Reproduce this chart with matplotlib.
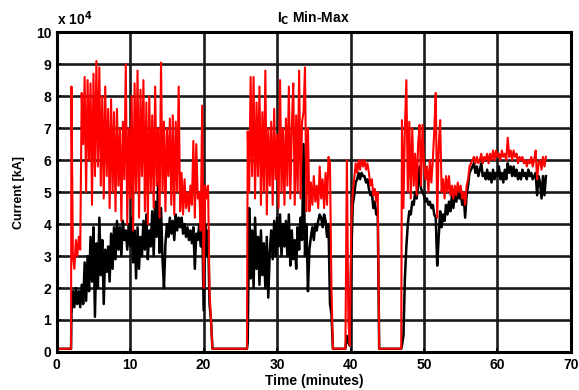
import numpy as np
import matplotlib
matplotlib.use("Agg")
import matplotlib.pyplot as plt

plt.rcParams["font.family"] = ["Liberation Sans", "DejaVu Sans"]
plt.rcParams["font.weight"] = "bold"

# current in units of 1e4 kA, sampled every 0.2 min inside each run
BASE = 0.1
gaps = [(0.0, 1.95), (21.3, 25.9), (37.7, 39.3), (44.0, 46.9)]

seg1_t = (2.0, 21.2)
seg1_max = [8.3, 3.0, 2.6, 3.5, 3.0, 3.6, 3.2, 8.1, 6.5, 8.6,
            5.0, 8.5, 6.0, 8.4, 4.6, 8.7, 5.5, 9.1, 5.8, 8.9,
            5.2, 8.0, 4.8, 8.3, 5.5, 7.6, 4.5, 7.9, 5.0, 7.5,
            4.4, 7.6, 5.2, 7.0, 4.1, 7.2, 5.4, 9.0, 4.0, 7.0,
            4.8, 8.0, 3.8, 8.4, 5.0, 8.8, 4.2, 8.2, 5.5, 8.5,
            4.4, 7.8, 4.0, 8.0, 5.0, 7.4, 4.5, 8.3, 5.2, 7.0,
            4.2, 9.05, 5.0, 7.2, 4.4, 7.0, 5.5, 7.3, 4.6, 7.4,
            4.3, 7.2, 5.0, 8.3, 4.4, 5.6, 4.3, 5.4, 4.5, 5.0,
            4.4, 5.2, 4.6, 6.6, 4.2, 6.5, 4.8, 5.0, 3.8, 7.7,
            2.0, 5.2, 4.8, 5.2, 1.9, 1.0, 0.1]
seg1_min = [1.2, 1.9, 1.4, 2.0, 1.5, 1.9, 1.4, 2.1, 1.5, 2.8,
            1.6, 3.0, 1.9, 3.6, 2.2, 3.9, 1.1, 3.4, 2.0, 4.2,
            2.4, 3.5, 1.5, 3.2, 2.5, 3.3, 2.2, 3.7, 2.6, 3.9,
            2.9, 4.1, 3.2, 3.9, 3.0, 4.1, 3.5, 3.8, 3.2, 4.0,
            3.3, 4.2, 2.8, 3.8, 2.3, 3.9, 2.6, 3.6, 3.0, 4.1,
            3.2, 4.3, 2.9, 3.8, 3.3, 4.4, 3.0, 4.7, 3.6, 5.3,
            3.1, 4.5, 2.9, 2.0, 3.4, 4.0, 3.6, 4.2, 3.7, 4.1,
            3.5, 4.3, 3.8, 4.2, 3.9, 4.2, 3.7, 4.0, 3.6, 3.9,
            3.5, 3.8, 3.4, 3.9, 2.6, 3.7, 3.5, 4.0, 3.3, 4.2,
            1.3, 4.0, 3.0, 3.8, 1.5, 1.0, 0.1]

seg2_t = (26.0, 37.6)
seg2_max = [6.9, 5.0, 8.6, 5.5, 8.6, 4.8, 7.8, 5.5, 8.3, 4.6,
            7.5, 5.0, 8.8, 4.3, 7.0, 5.2, 7.2, 4.6, 7.6, 5.4,
            6.8, 4.5, 8.5, 5.0, 7.0, 4.6, 7.3, 5.2, 8.3, 4.8,
            7.0, 8.4, 4.6, 7.4, 5.0, 8.8, 4.8, 7.2, 7.5, 8.9,
            4.4, 7.0, 4.4, 5.3, 4.6, 5.5, 4.7, 5.2, 4.5, 5.8,
            4.8, 5.4, 4.5, 5.6, 4.6, 6.1, 5.9, 2.0, 0.1]
seg2_min = [0.3, 4.5, 2.3, 3.8, 2.0, 4.2, 2.6, 3.6, 2.1, 3.8,
            2.4, 3.4, 2.0, 3.6, 1.7, 3.1, 3.8, 2.9, 4.1, 3.0,
            4.2, 3.3, 4.3, 3.0, 4.0, 3.3, 4.1, 3.0, 4.3, 2.7,
            3.8, 2.9, 3.5, 2.6, 3.9, 3.2, 4.2, 3.5, 6.5, 3.0,
            4.0, 1.9, 3.2, 3.6, 3.9, 3.5, 4.0, 3.8, 4.1, 4.3,
            4.2, 3.9, 4.3, 4.1, 3.6, 4.0, 1.5, 1.2, 0.1]

seg3_t = (39.5, 43.9)
seg3_max = [6.0, 1.0, 0.2, 4.0, 5.0, 5.4, 5.9, 5.6, 6.0, 5.7,
            6.0, 5.8, 6.0, 5.7, 5.9, 5.6, 5.2, 5.4, 4.9, 5.1,
            4.7, 5.0, 0.1]
seg3_min = [0.5, 0.3, 0.2, 3.0, 4.6, 4.9, 5.3, 5.4, 5.6, 5.4,
            5.6, 5.5, 5.5, 5.3, 5.4, 5.1, 4.9, 5.0, 4.5, 4.7,
            4.3, 4.4, 0.1]

seg4_t = (47.0, 56.4)
seg4_max = [7.25, 4.5, 7.0, 8.5, 5.0, 7.2, 4.8, 7.0, 5.2, 6.2,
            4.9, 6.5, 7.1, 5.2, 7.1, 5.9, 5.4, 5.8, 5.0, 6.0,
            5.3, 6.0, 6.9, 8.1, 4.2, 6.4, 7.25, 5.0, 5.4, 4.8,
            5.5, 5.0, 5.5, 4.9, 5.2, 4.8, 5.2, 4.9, 5.3, 5.0,
            5.2, 4.8, 5.0, 4.6, 5.2, 5.4, 5.8, 5.9]
seg4_min = [0.2, 0.5, 2.3, 3.3, 4.0, 4.4, 4.3, 4.7, 4.6, 5.0,
            4.8, 5.2, 5.8, 5.1, 5.0, 4.9, 4.7, 4.8, 4.6, 4.7,
            4.5, 4.6, 4.3, 4.2, 2.7, 3.6, 4.4, 3.9, 4.3, 4.1,
            4.6, 4.3, 4.7, 4.4, 4.9, 4.5, 5.0, 4.7, 5.0, 4.8,
            5.0, 4.6, 4.9, 4.2, 4.9, 5.2, 5.6, 5.7]

seg5_t = (56.6, 66.6)
seg5_max = [6.0, 6.1, 5.9, 6.1, 5.9, 6.0, 6.2, 5.9, 6.1, 6.0,
            6.2, 5.9, 6.2, 6.0, 6.3, 6.0, 6.3, 6.1, 6.2, 6.0,
            6.3, 6.1, 6.2, 6.0, 6.7, 6.1, 6.3, 6.0, 6.3, 6.1,
            6.2, 5.9, 6.1, 6.0, 6.1, 5.9, 6.0, 5.8, 6.0, 5.9,
            6.1, 5.8, 6.0, 6.3, 5.4, 5.9, 6.0, 5.7, 6.1, 5.8,
            6.1]
seg5_min = [5.8, 5.9, 5.6, 5.8, 5.5, 5.7, 5.9, 5.5, 5.6, 5.4,
            5.7, 5.4, 5.6, 5.3, 5.7, 5.4, 5.6, 5.5, 5.8, 5.4,
            5.6, 5.3, 5.7, 5.4, 5.9, 5.6, 5.8, 5.5, 5.8, 5.5,
            5.7, 5.4, 5.6, 5.4, 5.7, 5.5, 5.6, 5.4, 5.7, 5.5,
            5.6, 5.4, 5.5, 5.6, 4.9, 5.5, 5.3, 4.8, 5.5, 4.9,
            5.5]

runs = [(seg1_t, seg1_max, seg1_min), (seg2_t, seg2_max, seg2_min),
        (seg3_t, seg3_max, seg3_min), (seg4_t, seg4_max, seg4_min),
        (seg5_t, seg5_max, seg5_min)]


def build(which):
    t, y = [], []
    pieces = []
    for g in gaps:
        pieces.append((g[0], list(g), [BASE, BASE]))
    for (t0, t1), vmax, vmin in runs:
        vals = vmax if which == "max" else vmin
        pieces.append((t0, list(np.linspace(t0, t1, len(vals))), vals))
    pieces.sort(key=lambda p: p[0])
    for _, tt, vv in pieces:
        t += tt
        y += vv
    return np.array(t), np.array(y)


t_max, i_max = build("max")
t_min, i_min = build("min")

fig = plt.figure(figsize=(5.79, 3.90), dpi=100)
ax = fig.add_axes([0.098, 0.0975, 0.888, 0.82])

ax.plot(t_min, i_min, color="black", lw=1.8)
ax.plot(t_max, i_max, color="#ff0000", lw=1.5)

ax.set_xlim(0, 70)
ax.set_ylim(0, 10)
ax.set_xticks(np.arange(0, 71, 10))
ax.set_yticks(np.arange(0, 11, 1))
ax.grid(True, color="#1a1a1a", lw=1.9)
ax.set_axisbelow(True)
for s in ax.spines.values():
    s.set_linewidth(2.2)
ax.tick_params(length=3, width=1.2, direction="in", labelsize=10, pad=4)
for lab in ax.get_xticklabels() + ax.get_yticklabels():
    lab.set_fontweight("bold")

ax.set_xlabel("Time (minutes)", fontsize=10, fontweight="bold", labelpad=2)
ax.set_ylabel("Current [kA]", fontsize=9, fontweight="bold", labelpad=8)
ax.set_title(r"I$_\mathbf{C}$ Min-Max", fontsize=10, fontweight="bold", pad=7)
fig.text(0.098, 0.935, r"x 10$^\mathbf{4}$", fontsize=10, fontweight="bold")

fig.savefig("out.png", dpi=100)
